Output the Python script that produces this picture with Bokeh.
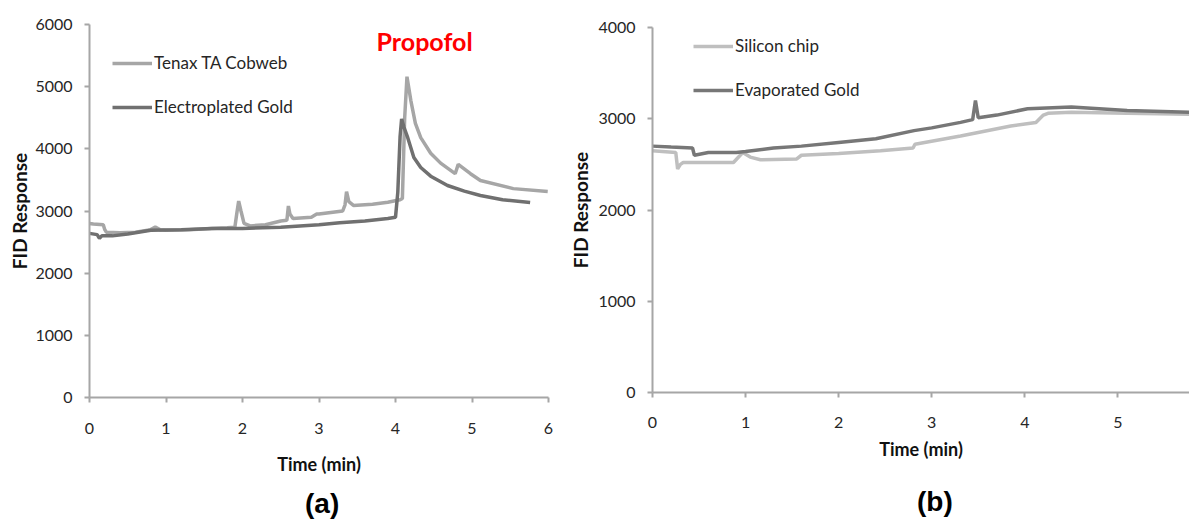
from bokeh.plotting import figure
from bokeh.models import Range1d, Legend, LegendItem, Label, FixedTicker, Div
from bokeh.layouts import row, column
from bokeh.embed import file_html
from bokeh.resources import INLINE

# ---------------- data (a) ----------------
tenax_time = [0.00, 0.05, 0.18, 0.20, 0.22, 0.40, 0.60, 0.80, 0.86, 0.92, 1.00, 1.30, 1.60, 1.80, 1.90,
              1.93, 1.95, 1.98, 2.02, 2.10, 2.30, 2.50, 2.58, 2.60, 2.62, 2.66, 2.90, 2.97, 3.00, 3.31,
              3.34, 3.36, 3.39, 3.45, 3.70, 3.90, 4.06, 4.09, 4.12, 4.15, 4.20, 4.26, 4.33, 4.46, 4.59,
              4.68, 4.78, 4.82, 4.98, 5.11, 5.54, 5.99]
tenax_fid = [2800, 2790, 2780, 2700, 2660, 2650, 2660, 2700, 2740, 2700, 2690, 2700, 2720, 2730, 2740,
             3000, 3160, 3000, 2800, 2760, 2780, 2840, 2850, 3080, 2950, 2880, 2900, 2950, 2950, 3000,
             3100, 3310, 3150, 3090, 3110, 3140, 3180, 3200, 4500, 5160, 4780, 4410, 4180, 3930, 3770,
             3690, 3600, 3750, 3600, 3490, 3360, 3315]

egold_time = [0.00, 0.10, 0.13, 0.16, 0.30, 0.50, 0.80, 1.20, 1.60, 2.00, 2.50, 3.00, 3.27, 3.60, 3.90,
              4.00, 4.03, 4.06, 4.08, 4.11, 4.16, 4.24, 4.33, 4.46, 4.68, 4.90, 5.11, 5.40, 5.76]
egold_fid = [2640, 2620, 2560, 2600, 2600, 2630, 2690, 2700, 2720, 2720, 2740, 2780, 2810, 2840, 2880,
             2900, 3300, 4200, 4480, 4350, 4180, 3860, 3700, 3560, 3410, 3320, 3250, 3180, 3135]

# ---------------- data (b) ----------------
silicon_time = [0.00, 0.25, 0.27, 0.30, 0.33, 0.87, 0.97, 1.05, 1.16, 1.55, 1.60, 2.00, 2.45, 2.80,
                2.82, 3.31, 3.85, 4.12, 4.20, 4.25, 4.50, 5.10, 5.77]
silicon_fid = [2650, 2630, 2450, 2500, 2520, 2520, 2630, 2580, 2550, 2560, 2600, 2620, 2650, 2680,
               2720, 2810, 2920, 2960, 3040, 3060, 3070, 3060, 3050]

evgold_time = [0.00, 0.20, 0.43, 0.45, 0.60, 0.90, 1.00, 1.30, 1.60, 2.00, 2.40, 2.81, 3.00, 3.31,
               3.44, 3.47, 3.50, 3.70, 4.03, 4.50, 5.10, 5.77]
evgold_fid = [2700, 2690, 2680, 2600, 2630, 2630, 2640, 2680, 2700, 2740, 2780, 2870, 2900, 2960,
              2990, 3200, 3010, 3040, 3110, 3130, 3090, 3070]

x_ticks_a = [0, 1, 2, 3, 4, 5, 6]
y_ticks_a = [0, 1000, 2000, 3000, 4000, 5000, 6000]
x_ticks_b = [0, 1, 2, 3, 4, 5]
y_ticks_b = [0, 1000, 2000, 3000, 4000]

AX = "#a6a6a6"
TXT = "#262626"


def style(p, tick_standoff, xlab_standoff, ylab_standoff):
    p.outline_line_color = None
    p.xgrid.visible = False
    p.ygrid.visible = False
    for ax in (p.xaxis[0], p.yaxis[0]):
        ax.axis_line_color = AX
        ax.axis_line_width = 2
        ax.major_tick_line_color = AX
        ax.major_tick_line_width = 2
        ax.major_tick_in = 0
        ax.major_tick_out = 5
        ax.minor_tick_line_color = None
        ax.major_label_text_font = "Lato"
        ax.major_label_text_font_size = "16px"
        ax.major_label_text_color = TXT
        ax.axis_label_text_font = "Lato"
        ax.axis_label_text_font_style = "bold"
        ax.axis_label_text_color = "#111111"
    p.xaxis[0].axis_label = "Time (min)"
    p.xaxis[0].axis_label_text_font_size = "18px"
    p.xaxis[0].axis_label_standoff = xlab_standoff
    p.xaxis[0].major_label_standoff = tick_standoff
    p.yaxis[0].axis_label = "FID Response"
    p.yaxis[0].axis_label_text_font_size = "19px"
    p.yaxis[0].major_label_standoff = 12
    p.yaxis[0].axis_label_standoff = ylab_standoff


def make_legend(items, loc):
    return Legend(items=items, location=loc, border_line_color=None, background_fill_alpha=0,
                  padding=0, margin=0, spacing=23, glyph_width=40, glyph_height=20, label_height=20,
                  label_standoff=2, label_text_font="Lato", label_text_font_size="17px",
                  label_text_color=TXT)


def panel_div(text, width, height, indent, line_height):
    html = ('<div style="font-family:\'Liberation Sans\';font-weight:bold;font-size:28px;'
            'color:#000;white-space:nowrap;margin:0;padding:0;'
            'text-indent:%dpx;line-height:%dpx;">%s</div>' % (indent, line_height, text))
    return Div(text=html, width=width, height=height, margin=(0, 0, 0, 0))


# ---------------- figure (a) ----------------
p1 = figure(width=565, height=486, output_backend="svg", toolbar_location=None,
            x_range=Range1d(0, 6), y_range=Range1d(0, 6000),
            min_border_left=89, min_border_right=17, min_border_top=24, min_border_bottom=89)
style(p1, 20, 16, 1)
p1.xaxis[0].ticker = FixedTicker(ticks=x_ticks_a)
p1.yaxis[0].ticker = FixedTicker(ticks=y_ticks_a)

r1 = p1.line(tenax_time, tenax_fid, line_color="#a6a6a6", line_width=3.5)
r2 = p1.line(egold_time, egold_fid, line_color="#707070", line_width=3.5)
p1.add_layout(make_legend([LegendItem(label="Tenax TA Cobweb", renderers=[r1]),
                           LegendItem(label="Electroplated Gold", renderers=[r2])], (23, 280)))
p1.add_layout(Label(x=4.38, y=5727, text="Propofol", text_align="center", text_baseline="middle",
                    text_font="Lato", text_font_style="bold", text_font_size="25px",
                    text_color="#ff0000"))
div_a = panel_div("(a)", 565, 37, 305, 35)

# ---------------- figure (b) ----------------
p2 = figure(width=624, height=486, output_backend="svg", toolbar_location=None,
            x_range=Range1d(0, 5.77), y_range=Range1d(0, 4000),
            min_border_left=87, min_border_right=0, min_border_top=27, min_border_bottom=94)
style(p2, 19, 7, 3)
p2.xaxis[0].ticker = FixedTicker(ticks=x_ticks_b)
p2.yaxis[0].ticker = FixedTicker(ticks=y_ticks_b)

r3 = p2.line(silicon_time, silicon_fid, line_color="#bfbfbf", line_width=3.5)
r4 = p2.line(evgold_time, evgold_fid, line_color="#777777", line_width=3.5)
p2.add_layout(make_legend([LegendItem(label="Silicon chip", renderers=[r3]),
                           LegendItem(label="Evaporated Gold", renderers=[r4])], (41, 292)))
div_b = panel_div("(b)", 624, 37, 352, 31)

layout = row(column(p1, div_a), column(p2, div_b))
open("out.html", "w").write(file_html(layout, INLINE))
